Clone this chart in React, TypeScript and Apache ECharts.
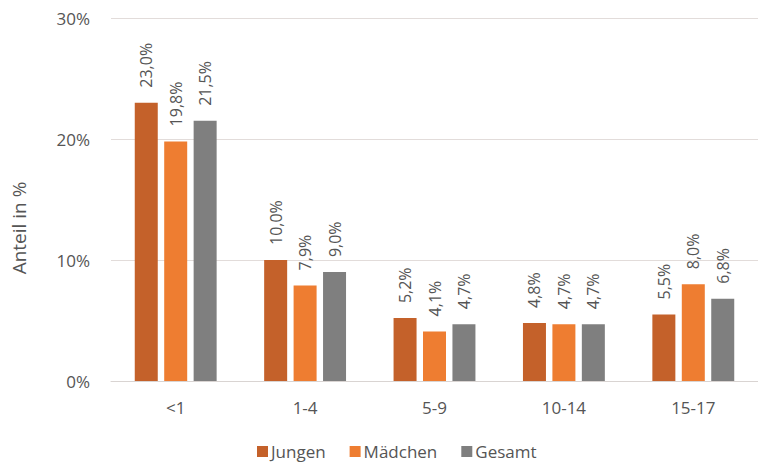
import React, { useEffect, useRef } from "react";
import * as echarts from "echarts";

const categories = ["<1", "1-4", "5-9", "10-14", "15-17"];
const jungen = [23.0, 10.0, 5.2, 4.8, 5.5];
const maedchen = [19.8, 7.9, 4.1, 4.7, 8.0];
const gesamt = [21.5, 9.0, 4.7, 4.7, 6.8];
const seriesNames = ["Jungen", "Mädchen", "Gesamt"];
const colors = ["#C4612A", "#EE7D31", "#7F7F7F"];
const yTicks = [0, 10, 20, 30];

const FONT = "'Open Sans', 'Noto Sans', sans-serif";
const TXT = "#555555";

export default function App() {
  const ref = useRef<HTMLDivElement>(null);
  useEffect(() => {
    if (!ref.current) return;
    const chart = echarts.init(ref.current, undefined, { renderer: "svg" });
    const fmt = (v: number) => v.toFixed(1).replace(".", ",") + "%";
    const mk = (name: string, data: number[], color: string) => ({
      name,
      type: "bar",
      data,
      barWidth: 23,
      barGap: "28%",
      itemStyle: { color },
      label: {
        show: true,
        position: "top",
        rotate: 90,
        align: "left",
        verticalAlign: "middle",
        distance: 15,
        color: TXT,
        fontSize: 16,
        fontFamily: FONT,
        formatter: (p: any) => fmt(p.value),
      },
    });
    chart.setOption({
      animation: false,
      backgroundColor: "#ffffff",
      textStyle: { fontFamily: FONT },
      grid: { left: 111, top: 18, width: 655, height: 363, containLabel: false },
      legend: {
        data: seriesNames,
        left: 252,
        top: 438,
        itemWidth: 11,
        itemHeight: 11,
        itemGap: 24,
        icon: "rect",
        textStyle: { color: TXT, fontSize: 17, fontFamily: FONT, padding: [0, 0, 0, -2] },
      },
      xAxis: {
        type: "category",
        data: categories,
        axisLine: { lineStyle: { color: "#D9D4D2", width: 1 } },
        axisTick: { show: false },
        axisLabel: { color: TXT, fontSize: 17, fontFamily: FONT, margin: 18 },
      },
      yAxis: {
        type: "value",
        min: yTicks[0],
        max: yTicks[yTicks.length - 1],
        interval: 10,
        axisLine: { show: false },
        axisTick: { show: false },
        splitLine: { lineStyle: { color: "#E2DCDA", width: 1 } },
        axisLabel: {
          color: TXT,
          fontSize: 17,
          fontFamily: FONT,
          margin: 21,
          formatter: (v: number) => v + "%",
        },
      },
      graphic: [
        {
          type: "text",
          x: 19,
          y: 228,
          rotation: Math.PI / 2,
          style: {
            text: "Anteil in %",
            fill: TXT,
            fontSize: 19,
            fontFamily: FONT,
            textAlign: "center",
            textVerticalAlign: "middle",
          },
        },
      ],
      series: [
        mk(seriesNames[0], jungen, colors[0]),
        mk(seriesNames[1], maedchen, colors[1]),
        mk(seriesNames[2], gesamt, colors[2]),
      ],
    });
    return () => chart.dispose();
  }, []);
  return <div ref={ref} style={{ width: 758, height: 462, position: "absolute", left: 0, top: 0 }} />;
}
